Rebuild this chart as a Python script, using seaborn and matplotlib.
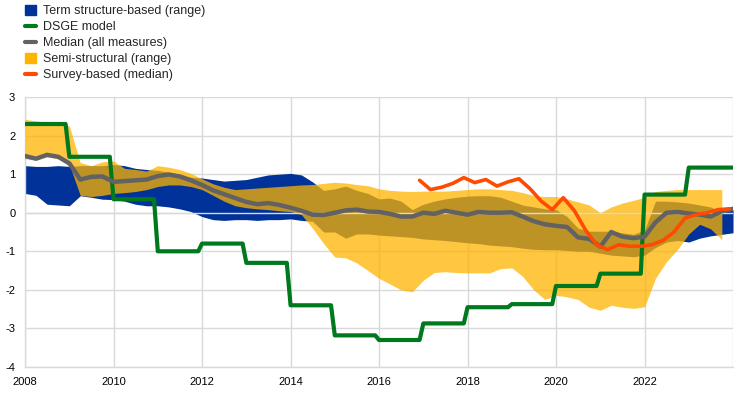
import numpy as np
import pandas as pd
import seaborn as sns
import matplotlib.pyplot as plt
from matplotlib.patches import Patch
from matplotlib.lines import Line2D

sns.set_style('white')
plt.rcParams['font.family'] = ['Liberation Sans', 'DejaVu Sans']
plt.rcParams['axes.unicode_minus'] = False

# quarterly grid 2008Q1 .. 2024Q1
quarters = pd.date_range('2008-01-01', '2024-01-01', freq='QS')

# term structure-based range
ts_high = [1.22, 1.20, 1.20, 1.22, 1.20, 1.22, 1.22, 1.22,
           1.25, 1.22, 1.15, 1.12, 1.10, 1.05, 1.00, 0.92,
           0.90, 0.86, 0.82, 0.84, 0.86, 0.92, 0.98, 1.00,
           1.02, 0.98, 0.80, 0.58, 0.62, 0.69, 0.58, 0.50,
           0.36, 0.38, 0.30, 0.08, 0.22, 0.30, 0.36, 0.40,
           0.43, 0.44, 0.44, 0.40, 0.30, 0.20, 0.15, 0.10,
           0.08, -0.10, -0.40, -0.48, -0.48, -0.48, -0.52, -0.56,
           -0.45, 0.30, 0.30, 0.28, 0.25, 0.20, 0.15, 0.00,
           0.08]
ts_low = [0.50, 0.45, 0.22, 0.20, 0.18, 0.44, 0.40, 0.35,
          0.34, 0.30, 0.22, 0.18, 0.18, 0.15, 0.10, 0.03,
          -0.10, -0.18, -0.20, -0.18, -0.18, -0.20, -0.18, -0.18,
          -0.16, -0.20, -0.22, -0.50, -0.50, -0.66, -0.55, -0.55,
          -0.58, -0.60, -0.62, -0.64, -0.68, -0.70, -0.72, -0.75,
          -0.78, -0.80, -0.84, -0.86, -0.88, -0.92, -0.95, -0.96,
          -0.96, -0.98, -1.00, -1.00, -1.05, -1.10, -1.12, -1.14,
          -1.10, -0.90, -0.76, -0.72, -0.76, -0.66, -0.60, -0.56,
          -0.52]

# semi-structural range
ss_high = [2.42, 2.38, 2.35, 2.30, 2.25, 1.30, 1.22, 1.32,
           1.34, 1.15, 1.12, 1.08, 1.22, 1.18, 1.12, 1.02,
           0.88, 0.75, 0.66, 0.60, 0.62, 0.64, 0.66, 0.68,
           0.70, 0.72, 0.73, 0.76, 0.79, 0.77, 0.73, 0.70,
           0.62, 0.58, 0.56, 0.55, 0.56, 0.56, 0.56, 0.58,
           0.60, 0.62, 0.62, 0.60, 0.58, 0.52, 0.45, 0.42,
           0.42, 0.36, 0.28, 0.20, 0.00, 0.15, 0.25, 0.32,
           0.40, 0.55, 0.58, 0.60, 0.60, 0.60, 0.60, 0.60,
           np.nan]
ss_low = [1.40, 1.38, 1.45, 1.40, 1.25, 0.45, 0.42, 0.45,
          0.50, 0.52, 0.55, 0.60, 0.68, 0.72, 0.72, 0.68,
          0.60, 0.45, 0.30, 0.18, 0.13, 0.10, 0.08, 0.05,
          0.03, -0.05, -0.40, -0.80, -1.15, -1.17, -1.30, -1.50,
          -1.70, -1.85, -2.00, -2.05, -1.75, -1.55, -1.53, -1.55,
          -1.56, -1.56, -1.56, -1.45, -1.43, -1.65, -2.00, -2.25,
          -2.14, -2.18, -2.25, -2.45, -2.53, -2.40, -2.45, -2.48,
          -2.44, -1.70, -1.27, -0.95, -0.55, -0.30, -0.42, -0.70,
          np.nan]

# median of all measures
median = [1.47, 1.40, 1.50, 1.45, 1.28, 0.86, 0.93, 0.94,
          0.80, 0.82, 0.84, 0.86, 0.95, 0.99, 0.94, 0.84,
          0.72, 0.58, 0.48, 0.38, 0.28, 0.22, 0.25, 0.20,
          0.13, 0.05, -0.05, -0.06, 0.00, 0.06, 0.08, 0.03,
          0.02, -0.03, -0.10, -0.10, 0.00, -0.03, 0.05, 0.00,
          -0.05, 0.02, 0.00, 0.00, 0.01, -0.10, -0.22, -0.30,
          -0.34, -0.37, -0.64, -0.68, -0.88, -0.50, -0.62, -0.66,
          -0.62, -0.25, 0.00, 0.02, -0.02, -0.05, -0.10, 0.04,
          0.10]

# survey-based median (quarterly from end-2016)
survey_dates = pd.date_range('2016-12-01', periods=29, freq='3MS')
survey = [0.84, 0.60, 0.66, 0.76, 0.91, 0.78, 0.86, 0.69,
          0.80, 0.88, 0.62, 0.30, 0.08, 0.39, 0.05, -0.45,
          -0.83, -0.96, -0.83, -0.87, -0.87, -0.83, -0.72, -0.50,
          -0.14, -0.05, 0.00, 0.08, 0.10]

# DSGE model (annual estimates)
dsge_years = list(range(2008, 2024))
dsge_annual = [2.30, 1.45, 0.35, -1.00, -0.80, -1.30, -2.40, -3.18,
               -3.30, -2.87, -2.45, -2.37, -1.90, -1.58, 0.47, 1.17]

months = pd.date_range('2008-01-01', '2024-01-01', freq='MS')
dsge = list(np.repeat(dsge_annual, 12)) + [dsge_annual[-1]]

df_q = pd.DataFrame({'date': quarters, 'median': median})
df_s = pd.DataFrame({'date': survey_dates, 'survey': survey})
df_d = pd.DataFrame({'date': months, 'dsge': dsge})

c_blue = '#003299'
c_yellow = '#FFB400'
c_green = '#00781E'
c_gray = '#626262'
c_orange = '#FF4B00'

fig = plt.figure(figsize=(7.42, 3.93), dpi=100)
ax = fig.add_axes([25/742, 1-367/393, (733-25)/742, (367-97)/393])

ax.fill_between(quarters, ts_low, ts_high, color=c_blue, lw=0, zorder=2)
ax.fill_between(quarters, ss_low, ss_high, color=c_yellow, alpha=0.75, lw=0, zorder=3)
ax.axhline(0, color='#d9d9d9', lw=1, zorder=4)

sns.lineplot(data=df_d, x='date', y='dsge', ax=ax, color=c_green, lw=3, zorder=5)
sns.lineplot(data=df_q, x='date', y='median', ax=ax, color=c_gray, lw=3.2, zorder=6)
sns.lineplot(data=df_s, x='date', y='survey', ax=ax, color=c_orange, lw=2.6, zorder=7)

ax.set_xlim(pd.Timestamp('2008-01-01'), pd.Timestamp('2024-01-01'))
ax.set_ylim(-4, 3)
ax.set_yticks(range(-4, 4))
xt = pd.to_datetime([str(y) + '-01-01' for y in range(2008, 2025, 2)])
ax.set_xticks(xt)
ax.set_xticklabels([str(y) for y in range(2008, 2025, 2)][:-1] + [''])
ax.set_xlabel('')
ax.set_ylabel('')
ax.grid(True, color='#d9d9d9', lw=1, zorder=0)
ax.set_axisbelow(True)
for s in ['top', 'right']:
    ax.spines[s].set_visible(False)
for s in ['left', 'bottom']:
    ax.spines[s].set_color('#d9d9d9')
    ax.spines[s].set_linewidth(1)
ax.tick_params(axis='both', length=0, labelsize=8, colors='black', pad=7)

handles = [Patch(color=c_blue), Line2D([], [], color=c_green, lw=3),
           Line2D([], [], color=c_gray, lw=3), Patch(color=c_yellow),
           Line2D([], [], color=c_orange, lw=3)]
labels = ['Term structure-based (range)', 'DSGE model', 'Median (all measures)',
          'Semi-structural (range)', 'Survey-based (median)']
fig.legend(handles, labels, loc='upper left', bbox_to_anchor=(0.029, 0.997),
           frameon=False, fontsize=9, handlelength=0.85, handleheight=0.85,
           handletextpad=0.55, labelspacing=0.3, borderaxespad=0.1, borderpad=0.2)

fig.savefig('out.png', dpi=100)
